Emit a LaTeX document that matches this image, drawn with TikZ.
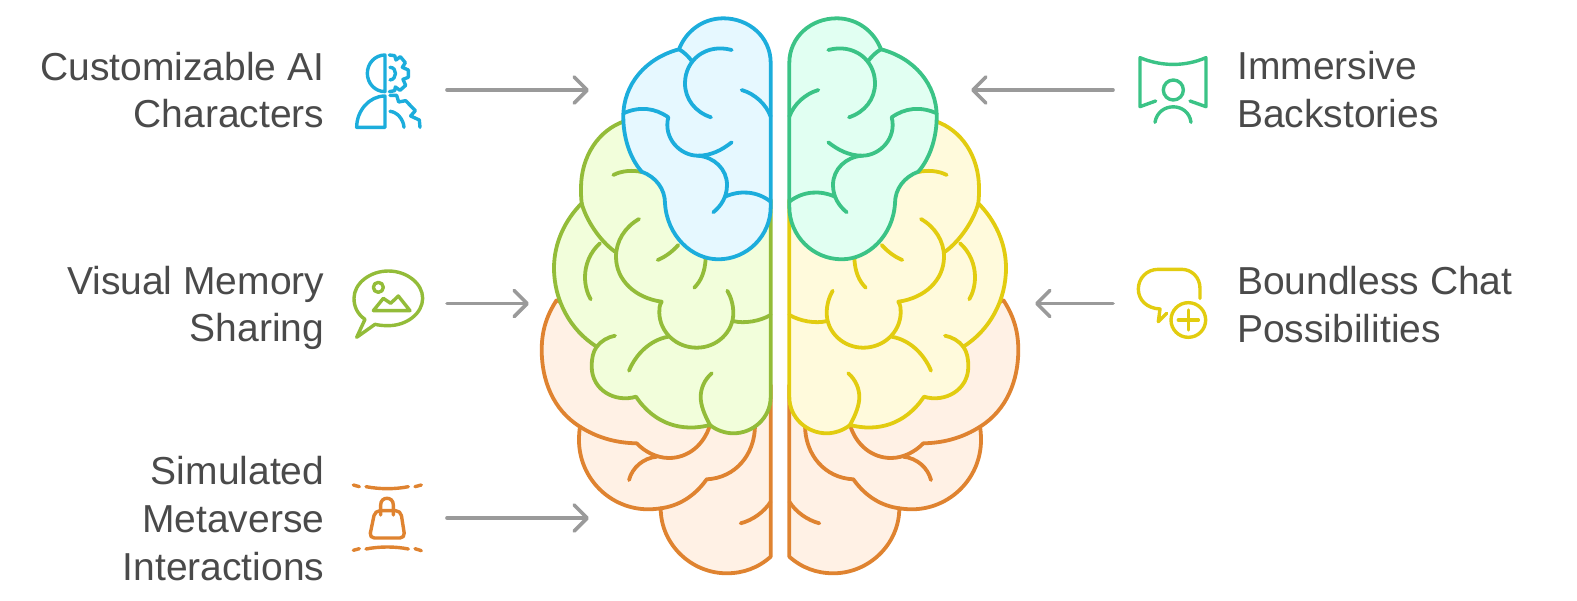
\documentclass[tikz,border=0pt]{standalone}
\usepackage{fontspec}
\setmainfont{Liberation Sans}
\usetikzlibrary{arrows.meta}

\definecolor{topleft}{HTML}{1CADDC}
\definecolor{topleftfill}{HTML}{E6F8FF}
\definecolor{topright}{HTML}{3BC386}
\definecolor{toprightfill}{HTML}{E1FFF2}
\definecolor{midleft}{HTML}{93BC39}
\definecolor{midleftfill}{HTML}{F2FEDB}
\definecolor{midright}{HTML}{E2CC10}
\definecolor{midrightfill}{HTML}{FFFADC}
\definecolor{lowstroke}{HTML}{DF8330}
\definecolor{lowfill}{HTML}{FFF1E5}
\definecolor{labeltext}{HTML}{4A4A4A}
\definecolor{pointer}{HTML}{9A9A9A}

\tikzset{
	brainline/.style={line width=3.8pt, line cap=round, line join=round},
	iconline/.style={line width=3.4pt, line cap=round, line join=round},
	pointerline/.style={pointer, line width=3.6pt, line cap=round,
		-{Straight Barb[round, length=13pt, width=26pt]}},
	caption/.style={text=labeltext, inner sep=0pt, font=\fontsize{39}{47.7}\selectfont}
}

% lower lobe of one half: #1 stroke, #2 fill
\newcommand{\lowlobe}[2]{
	\draw[brainline, draw=#1, fill=#2] (770.7,385) -- (770.7,556.7)
	.. controls (758,568) and (743,573.3) .. (726.7,573.3)
	.. controls (691,573.3) and (660.7,544) .. (660.7,508.3)
	.. controls (656,509) and (652,509.3) .. (648.3,509.3)
	.. controls (610,509.3) and (579,478) .. (579,440)
	.. controls (579,435) and (579.3,431) .. (580,426.7)
	.. controls (553,410) and (541.7,380) .. (541.7,350)
	.. controls (541.7,330) and (547,315) .. (556.7,300) -- (700,385) -- cycle;
	\draw[brainline, draw=#1] (580,426.7) .. controls (596,437) and (615,443) .. (636.7,443.3)
	.. controls (645,452) and (657,458) .. (669,458) .. controls (688,458) and (704,445) .. (710,425);
	\draw[brainline, draw=#1] (656.7,456.7) .. controls (643,458) and (632,468) .. (629,480);
	\draw[brainline, draw=#1] (660.7,508.3) .. controls (678,506) and (694,497) .. (706.7,479.3)
	.. controls (735,478) and (755,455) .. (755,425);
	\draw[brainline, draw=#1] (740.7,523.3) .. controls (753,520) and (764,512) .. (770.7,501.7);
}

% middle lobe of one half
\newcommand{\midlobe}[2]{
	\draw[brainline, draw=#1, fill=#2] (770.7,200) -- (770.7,396.7)
	.. controls (770.7,418) and (753,433.3) .. (733.3,433.3)
	.. controls (725,433.3) and (716,430) .. (710,425)
	.. controls (683,432) and (655,425) .. (636,396.7)
	.. controls (615,403) and (591.7,390) .. (591.7,366.7)
	.. controls (591.7,358) and (593,352) .. (596.7,346.7)
	.. controls (570,330) and (554,300) .. (554,268)
	.. controls (554,243) and (565,220) .. (581.7,203.3)
	.. controls (581,198) and (581,193) .. (581,188)
	.. controls (581,157) and (598,130) .. (625,121) -- (700,120) -- cycle;
	\draw[brainline, draw=#1] (581.7,203.3) .. controls (586,220) and (600,241) .. (615,251.7);
	\draw[brainline, draw=#1] (613.3,175) .. controls (622,170.5) and (633,170) .. (641.7,172);
	\draw[brainline, draw=#1] (639,219) .. controls (625,227) and (616,241) .. (616,256.7)
	.. controls (616,280) and (635,298) .. (661.7,301.7)
	.. controls (659,306) and (659.3,309) .. (659.3,313)
	.. controls (660,333) and (677,347.7) .. (696.7,347.7)
	.. controls (717,347.7) and (733.3,332) .. (733.3,313)
	.. controls (733.3,305) and (731,297) .. (727.3,290.7);
	\draw[brainline, draw=#1] (732.7,321) .. controls (745,324) and (760,321) .. (770.7,315);
	\draw[brainline, draw=#1] (668.3,336.7) .. controls (650,340) and (636,354) .. (629,370.7);
	\draw[brainline, draw=#1] (596.7,346.7) .. controls (601,341) and (608,337) .. (615,335.7);
	\draw[brainline, draw=#1] (600,243.3) .. controls (590,252) and (585,265) .. (585,277)
	.. controls (585,285) and (587,293) .. (590.7,299.3);
	\draw[brainline, draw=#1] (678.3,245) .. controls (672,252) and (665,257) .. (657.7,260);
	\draw[brainline, draw=#1] (705.7,258) .. controls (705,272) and (701,281) .. (694.3,287.7);
	\draw[brainline, draw=#1] (711.7,373.3) .. controls (704,380) and (700.7,389) .. (700.7,397)
	.. controls (700.7,405) and (704,414) .. (710,425);
}

% top lobe of one half
\newcommand{\toplobe}[2]{
	\draw[brainline, draw=#1, fill=#2] (770.7,63) .. controls (770.7,37) and (749,18.3) .. (723.3,18.3)
	.. controls (703,18.3) and (686,31) .. (679,49.3)
	.. controls (646,58) and (623.3,84) .. (623.3,116.7)
	.. controls (623.3,136) and (629,157) .. (641.7,171.7)
	.. controls (656,177) and (665,189) .. (665,203.3)
	.. controls (667,236) and (692,259.3) .. (718.3,259.3)
	.. controls (747,259.3) and (770.7,236) .. (770.7,206.7) -- cycle;
	\draw[brainline, draw=#1] (679,49.3) .. controls (684,52) and (689,57) .. (692.3,61.7);
	\draw[brainline, draw=#1] (731.7,50) .. controls (706,43) and (685,60) .. (685,83.3)
	.. controls (685,99) and (695,112) .. (711,117.3);
	\draw[brainline, draw=#1] (741.7,90) .. controls (755,94) and (766,104) .. (770.7,116.7);
	\draw[brainline, draw=#1] (623.3,113.3) .. controls (640,106) and (655,108) .. (668.3,117.3)
	.. controls (663,138) and (680,155.7) .. (698,155.7)
	.. controls (711,155.7) and (722,150) .. (731.7,142.3);
	\draw[brainline, draw=#1] (698,155.7) .. controls (714,157) and (727,169) .. (727,185)
	.. controls (727,197) and (721,206) .. (713.3,212.3);
	\draw[brainline, draw=#1] (725,196.7) .. controls (740,190) and (757,191) .. (770.7,201.7);
}

\begin{document}
\begin{tikzpicture}[x=1pt, y=-1pt]
	
	\useasboundingbox (0,0) rectangle (1577,600);
	
	% Left half of the brain
	\lowlobe{lowstroke}{lowfill}
	\midlobe{midleft}{midleftfill}
	\toplobe{topleft}{topleftfill}
	
	% Right half, mirrored about x=780
	\begin{scope}[shift={(1560,0)}, xscale=-1]
		\lowlobe{lowstroke}{lowfill}
		\midlobe{midright}{midrightfill}
		\toplobe{topright}{toprightfill}
	\end{scope}
	
	% Captions
	\node[caption, anchor=east, align=right] (custom) at (324.5,90) {Customizable AI\\Characters};
	\node[caption, anchor=east, align=right] (visual) at (324.5,308) {Visual Memory\\Sharing};
	\node[caption, anchor=east, align=right] (simul) at (324.5,518.5) {Simulated\\Metaverse\\Interactions};
	\node[caption, anchor=west, align=left] (immersive) at (1237,89.5) {Immersive\\Backstories};
	\node[caption, anchor=west, align=left] (boundless) at (1237,304.5) {Boundless Chat\\Possibilities};
	
	% Pointers
	\coordinate (customout) at (447,90);
	\coordinate (customin) at (589,90);
	\coordinate (visualout) at (447,303.5);
	\coordinate (visualin) at (529,303.5);
	\coordinate (simulout) at (447,518);
	\coordinate (simulin) at (589,518);
	\coordinate (immersiveout) at (1113,90);
	\coordinate (immersivein) at (971,90);
	\coordinate (boundlessout) at (1113,303.5);
	\coordinate (boundlessin) at (1035,303.5);
	\draw[pointerline] (customout) -- (customin);
	\draw[pointerline] (visualout) -- (visualin);
	\draw[pointerline] (simulout) -- (simulin);
	\draw[pointerline] (immersiveout) -- (immersivein);
	\draw[pointerline] (boundlessout) -- (boundlessin);
	
	% Head and gears icon
	\begin{scope}[shift={(340,40)}, scale=0.3333, iconline, draw=topleft]
		\draw (135,45) -- (135,155) .. controls (105,155) and (82,130) .. (82,100)
		.. controls (82,70) and (105,45) .. (135,45) -- cycle;
		\draw (135,168) -- (135,262) -- (50,262) .. controls (50,212) and (88,168) .. (135,168) -- cycle;
		\draw (148,45) -- (164,47) -- (168,60) -- (181,50) -- (196,68) -- (187,82) -- (205,90)
		-- (205,112) -- (189,118) -- (197,136) -- (180,151) -- (166,141) -- (164,152) -- (148,155);
		\draw (150,82) .. controls (172,82) and (172,118) .. (150,120);
		\draw (150,166) -- (170,166) -- (176,186) -- (197,182) -- (226,212) -- (212,228)
		-- (238,240) -- (240,262);
		\draw (150,214) .. controls (172,216) and (190,238) .. (192,262);
	\end{scope}
	
	% Picture in speech bubble icon
	\begin{scope}[shift={(340,260)}, scale=0.3333, iconline, draw=midleft]
		\draw (75,178) .. controls (52,162) and (42,140) .. (42,115)
		.. controls (42,70) and (90,33) .. (145,33) .. controls (200,33) and (248,70) .. (248,115)
		.. controls (248,160) and (200,197) .. (145,197) .. controls (130,197) and (118,196) .. (105,193)
		-- (50,232) -- cycle;
		\draw (115,82) circle (15);
		\draw (100,152) -- (210,152) -- (175,108) -- (152,130) -- (130,115) -- cycle;
	\end{scope}
	
	% Shopping bag icon
	\begin{scope}[shift={(340,470)}, scale=0.3333, iconline, draw=lowstroke]
		\draw (40,45) -- (58,50);
		\draw (78,50) .. controls (120,58) and (165,58) .. (205,50);
		\draw (225,50) -- (244,45);
		\draw (40,241) -- (58,236);
		\draw (78,237) .. controls (120,229) and (165,229) .. (205,237);
		\draw (225,236) -- (244,242);
		\draw[rounded corners=5pt] (105,122) -- (182,122) -- (195,204) -- (88,204) -- cycle;
		\draw (122,135) -- (122,105) .. controls (122,78) and (160,78) .. (160,105) -- (160,135);
	\end{scope}
	
	% Person on curved screen icon
	\begin{scope}[shift={(1125,45)}, scale=0.3333, iconline, draw=topright]
		\draw (92,168) -- (45,185) -- (45,38) .. controls (110,65) and (180,65) .. (243,38) -- (243,185) -- (195,168);
		\draw (145,135) circle (30);
		\draw (90,232) .. controls (100,170) and (190,170) .. (198,232);
	\end{scope}
	
	% Speech bubble with plus icon
	\begin{scope}[shift={(1125,260)}, scale=0.3333, iconline, draw=midright]
		\draw (225,115) -- (225,85) .. controls (225,52) and (200,28) .. (170,28) -- (100,28)
		.. controls (65,28) and (40,55) .. (40,87) .. controls (40,120) and (65,145) .. (105,147)
		-- (100,185) -- (125,160);
		\draw (190,180) circle (52);
		\draw (160,180) -- (220,180);
		\draw (190,150) -- (190,210);
	\end{scope}
	
\end{tikzpicture}
\end{document}
